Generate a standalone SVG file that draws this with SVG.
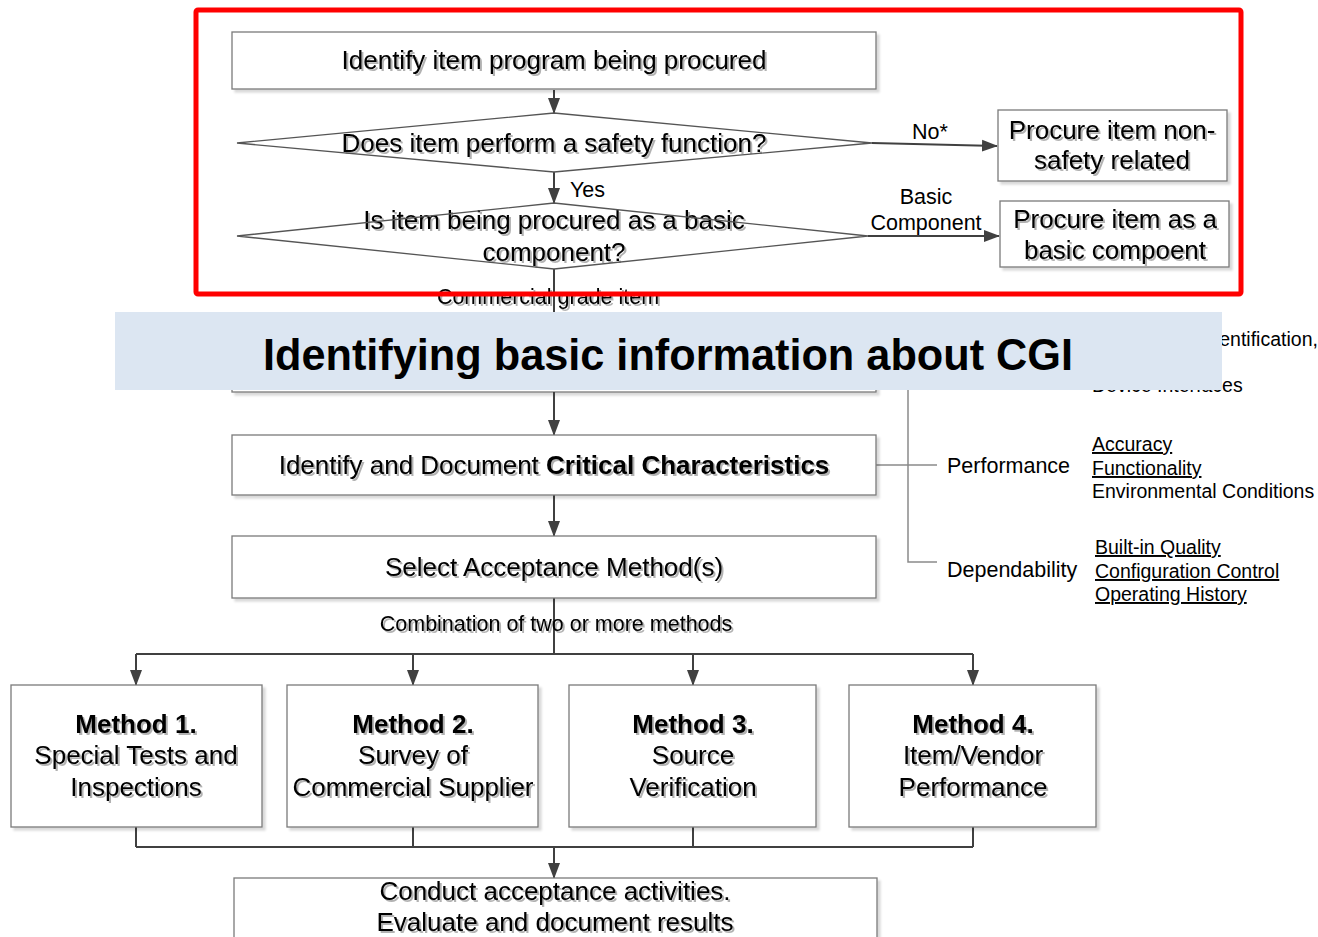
<svg xmlns="http://www.w3.org/2000/svg" width="1318" height="937" viewBox="0 0 1318 937">
<style>
text{font-family:"Liberation Sans",Arial,sans-serif;fill:#000}
.big{font-size:26px;text-anchor:middle}
.mid{font-size:26px;text-anchor:middle}
.lbl{font-size:21.5px}
.sm{font-size:19.5px}
.u{text-decoration:underline}
.box{fill:#fff;stroke:#7a7a7a;stroke-width:1.3}
.dia{fill:none;stroke:#555;stroke-width:1.3}
.con{fill:none;stroke:#404040;stroke-width:2}
.tree{fill:none;stroke:#8a8a8a;stroke-width:1.5}
.sh{filter:url(#tsh)}
.bs{filter:url(#bsh)}
</style>
<defs>
<filter id="tsh" x="-5%" y="-20%" width="110%" height="150%"><feDropShadow dx="2" dy="2" stdDeviation="0.7" flood-color="#000" flood-opacity="0.3"/></filter>
<filter id="bsh" x="-5%" y="-10%" width="110%" height="130%"><feDropShadow dx="3" dy="3" stdDeviation="1" flood-color="#000" flood-opacity="0.15"/></filter>
<marker id="ah" markerWidth="16" markerHeight="14" refX="15" refY="7" orient="auto" markerUnits="userSpaceOnUse"><path d="M0,1 L16,7 L0,13 Z" fill="#404040"/></marker>
</defs>

<g id="n-hidden"><rect class="box bs" x="232" y="330" width="644" height="62"/></g>

<g id="connectors">
<line class="con" x1="554" y1="90" x2="554" y2="113" marker-end="url(#ah)"/>
<line class="con" x1="554" y1="172" x2="554" y2="203" marker-end="url(#ah)"/>
<line class="con" x1="872" y1="143" x2="997" y2="146" marker-end="url(#ah)"/>
<line class="con" x1="868" y1="236" x2="999" y2="236" marker-end="url(#ah)"/>
<line class="con" x1="554" y1="269" x2="554" y2="330"/>
<line class="con" x1="554" y1="392" x2="554" y2="435" marker-end="url(#ah)"/>
<line class="con" x1="554" y1="495" x2="554" y2="536" marker-end="url(#ah)"/>
<line class="con" x1="554" y1="598" x2="554" y2="654"/>
<line class="con" x1="136" y1="654" x2="973" y2="654"/>
<line class="con" x1="136" y1="654" x2="136" y2="685" marker-end="url(#ah)"/>
<line class="con" x1="413" y1="654" x2="413" y2="685" marker-end="url(#ah)"/>
<line class="con" x1="693" y1="654" x2="693" y2="685" marker-end="url(#ah)"/>
<line class="con" x1="973" y1="654" x2="973" y2="685" marker-end="url(#ah)"/>
<path class="con" d="M136,827 V847 M413,827 V847 M693,827 V847 M973,827 V847 M136,847 H973"/>
<line class="con" x1="554" y1="847" x2="554" y2="878" marker-end="url(#ah)"/>
<path class="tree" d="M876,465 H937 M908,388 V562 H937"/>
</g>

<g id="n1"><rect class="box bs" x="232" y="32" width="644" height="57"/><text class="big sh" x="554" y="69">Identify item program being procured</text></g>

<g id="d1"><text class="big sh" x="554" y="152">Does item perform a safety function?</text><polygon class="dia" points="237,143 554,113 872,143 554,172"/></g>

<g id="d2"><text class="big sh" x="554" y="229">Is item being procured as a basic</text><text class="big sh" x="554" y="261">component?</text><polygon class="dia" points="237,236 554,203 868,236 554,269"/></g>

<g id="n-nonsafety"><rect class="box bs" x="998" y="110" width="229" height="71"/><text class="big sh" x="1112" y="139">Procure item non-</text><text class="big sh" x="1112" y="169">safety related</text></g>

<g id="n-basic"><rect class="box bs" x="1000" y="201" width="229" height="66"/><text class="big sh" x="1115" y="228">Procure item as a</text><text class="big sh" x="1115" y="259">basic compoent</text></g>

<g id="labels">
<text class="lbl" x="930" y="139" text-anchor="middle">No*</text>
<text class="lbl" x="570" y="197">Yes</text>
<text class="lbl" x="926" y="204" text-anchor="middle">Basic</text>
<text class="lbl" x="926" y="230" text-anchor="middle">Component</text>
<text class="lbl sh" x="548" y="304" text-anchor="middle">Commercial grade item</text>
<text class="lbl sh" x="556" y="631" text-anchor="middle">Combination of two or more methods</text>
</g>
<line class="con" x1="554" y1="280" x2="554" y2="312"/>

<g id="red-frame"><rect x="196" y="10" width="1045" height="284" fill="none" stroke="#ff0000" stroke-width="5" rx="2"/></g>

<g id="right-list">
<text class="sm" x="1203" y="346">Identification,</text>
<text class="sm" x="1092" y="392">Device Interfaces</text>
<text class="lbl" x="947" y="473">Performance</text>
<text class="sm u" x="1092" y="451">Accuracy</text>
<text class="sm u" x="1092" y="475">Functionality</text>
<text class="sm" x="1092" y="498">Environmental Conditions</text>
<text class="lbl" x="947" y="577">Dependability</text>
<text class="sm u" x="1095" y="554">Built-in Quality</text>
<text class="sm u" x="1095" y="578">Configuration Control</text>
<text class="sm u" x="1095" y="601">Operating History</text>
</g>

<g id="banner"><rect x="115" y="312" width="1107" height="78" fill="#dce6f2"/><text x="668" y="370" text-anchor="middle" font-family="'Noto Sans CJK KR','Noto Sans',sans-serif" font-weight="bold" font-size="44" textLength="810" lengthAdjust="spacingAndGlyphs">Identifying basic information about CGI</text></g>

<g id="n-cc"><rect class="box bs" x="232" y="435" width="644" height="60"/><text class="big sh" x="554" y="474">Identify and Document <tspan font-weight="bold">Critical Characteristics</tspan></text></g>

<g id="n-sam"><rect class="box bs" x="232" y="536" width="644" height="62"/><text class="big sh" x="554" y="576">Select Acceptance Method(s)</text></g>

<g id="m1"><rect class="box bs" x="11" y="685" width="251" height="142"/><text class="mid sh" x="136" y="733" font-weight="bold">Method 1.</text><text class="mid sh" x="136" y="764">Special Tests and</text><text class="mid sh" x="136" y="796">Inspections</text></g>
<g id="m2"><rect class="box bs" x="287" y="685" width="251" height="142"/><text class="mid sh" x="413" y="733" font-weight="bold">Method 2.</text><text class="mid sh" x="413" y="764">Survey of</text><text class="mid sh" x="413" y="796" textLength="241" lengthAdjust="spacingAndGlyphs">Commercial Supplier</text></g>
<g id="m3"><rect class="box bs" x="569" y="685" width="247" height="142"/><text class="mid sh" x="693" y="733" font-weight="bold">Method 3.</text><text class="mid sh" x="693" y="764">Source</text><text class="mid sh" x="693" y="796">Verification</text></g>
<g id="m4"><rect class="box bs" x="849" y="685" width="247" height="142"/><text class="mid sh" x="973" y="733" font-weight="bold">Method 4.</text><text class="mid sh" x="973" y="764">Item/Vendor</text><text class="mid sh" x="973" y="796">Performance</text></g>

<g id="n-final"><rect class="box bs" x="234" y="878" width="643" height="80"/><text class="big sh" x="555" y="900">Conduct acceptance activities.</text><text class="big sh" x="555" y="931">Evaluate and document results</text></g>
</svg>
